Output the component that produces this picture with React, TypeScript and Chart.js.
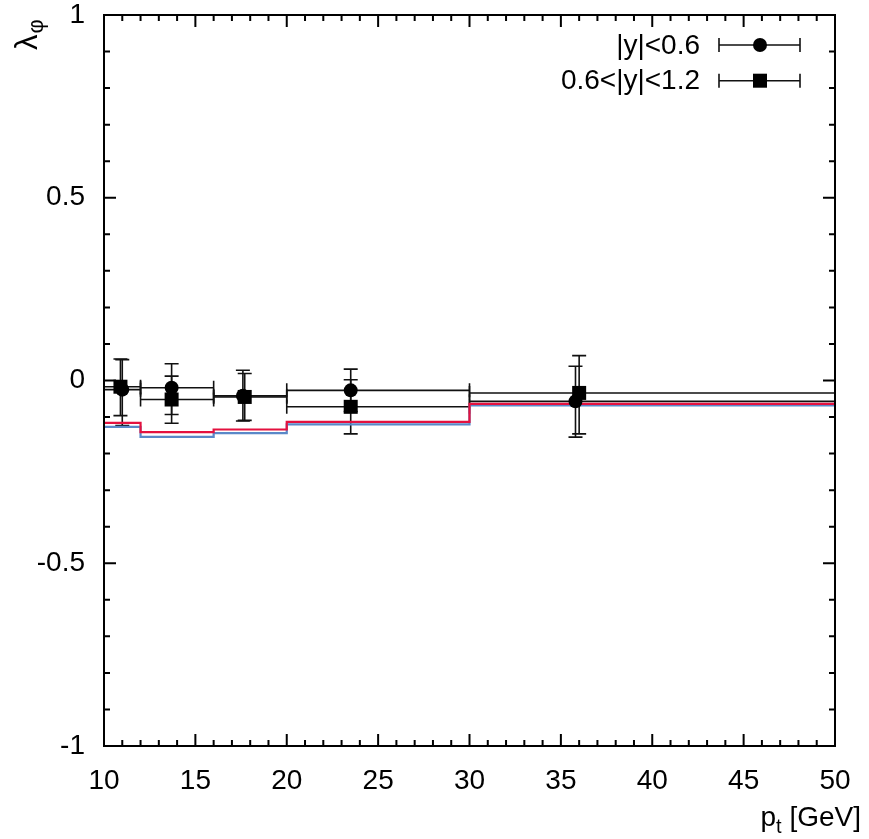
import { useEffect, useRef } from "react";
import { Chart, registerables } from "chart.js";

Chart.register(...registerables);

const FONT = "'Liberation Sans', Arial, sans-serif";

// pt bins [GeV]
const binLow = [10, 12, 16, 20, 30];
const binHigh = [12, 16, 20, 30, 50];

// |y|<0.6 (circles)
const centralPt = [11.0, 13.7, 17.6, 23.5, 35.8];
const centralLambda = [-0.025, -0.02, -0.042, -0.027, -0.057];
const centralErrUp = [0.082, 0.066, 0.07, 0.058, 0.096];
const centralErrDown = [0.098, 0.073, 0.069, 0.058, 0.098];

// 0.6<|y|<1.2 (squares)
const forwardPt = [10.9, 13.7, 17.7, 23.5, 36.0];
const forwardLambda = [-0.017, -0.052, -0.045, -0.072, -0.034];
const forwardErrUp = [0.076, 0.064, 0.064, 0.074, 0.102];
const forwardErrDown = [0.079, 0.065, 0.064, 0.074, 0.112];

// theory histograms (value per bin)
const theoryEdges = [10, 12, 16, 20, 30, 50];
const theoryRed = [-0.116, -0.141, -0.134, -0.113, -0.064];
const theoryBlue = [-0.127, -0.154, -0.144, -0.12, -0.068];

const xMajorTicks = [10, 15, 20, 25, 30, 35, 40, 45, 50];
const yMajorTicks = [-1, -0.5, 0, 0.5, 1];

const legendLabels = ["|y|<0.6", "0.6<|y|<1.2"];

const CAP = 7;
const CIRCLE_R = 7;
const SQUARE_SIDE = 14;

const series = [
  { pt: centralPt, val: centralLambda, up: centralErrUp, down: centralErrDown, style: "circle" },
  { pt: forwardPt, val: forwardLambda, up: forwardErrUp, down: forwardErrDown, style: "rect" },
];

const stepPoints = (vals: number[]) =>
  theoryEdges.map((x, i) => ({ x, y: vals[Math.min(i, vals.length - 1)] }));

const isMajor = (v: number, list: number[]) => list.some((m) => Math.abs(m - v) < 1e-6);

function drawMarker(ctx: CanvasRenderingContext2D, style: string, x: number, y: number) {
  ctx.fillStyle = "#000";
  if (style === "circle") {
    ctx.beginPath();
    ctx.arc(x, y, CIRCLE_R, 0, Math.PI * 2);
    ctx.fill();
  } else {
    ctx.fillRect(x - SQUARE_SIDE / 2, y - SQUARE_SIDE / 2, SQUARE_SIDE, SQUARE_SIDE);
  }
}

const errorBars = {
  id: "errorBars",
  beforeDatasetsDraw(chart: any) {
    const { ctx, scales } = chart;
    const { x, y } = scales;
    ctx.save();
    ctx.strokeStyle = "#111";
    ctx.lineWidth = 1.6;
    for (const s of series) {
      s.val.forEach((v, i) => {
        const py = y.getPixelForValue(v);
        const x0 = x.getPixelForValue(binLow[i]);
        const x1 = x.getPixelForValue(binHigh[i]);
        const px = x.getPixelForValue(s.pt[i]);
        const yt = y.getPixelForValue(v + s.up[i]);
        const yb = y.getPixelForValue(v - s.down[i]);
        ctx.beginPath();
        ctx.moveTo(x0, py);
        ctx.lineTo(x1, py);
        ctx.moveTo(x0, py - CAP);
        ctx.lineTo(x0, py + CAP);
        ctx.moveTo(x1, py - CAP);
        ctx.lineTo(x1, py + CAP);
        ctx.moveTo(px, yt);
        ctx.lineTo(px, yb);
        ctx.moveTo(px - CAP, yt);
        ctx.lineTo(px + CAP, yt);
        ctx.moveTo(px - CAP, yb);
        ctx.lineTo(px + CAP, yb);
        ctx.stroke();
      });
    }
    ctx.restore();
  },
};

const frameAndText = {
  id: "frameAndText",
  afterDraw(chart: any) {
    const { ctx, chartArea: a, scales } = chart;
    const { x, y } = scales;
    ctx.save();
    ctx.strokeStyle = "#000";
    ctx.lineWidth = 2;
    ctx.strokeRect(a.left, a.top, a.right - a.left, a.bottom - a.top);

    ctx.beginPath();
    for (const t of x.ticks) {
      const px = x.getPixelForValue(t.value);
      const len = isMajor(t.value, xMajorTicks) ? 12 : 6;
      ctx.moveTo(px, a.bottom);
      ctx.lineTo(px, a.bottom - len);
      ctx.moveTo(px, a.top);
      ctx.lineTo(px, a.top + len);
    }
    for (const t of y.ticks) {
      const py = y.getPixelForValue(t.value);
      const len = isMajor(t.value, yMajorTicks) ? 12 : 6;
      ctx.moveTo(a.left, py);
      ctx.lineTo(a.left + len, py);
      ctx.moveTo(a.right, py);
      ctx.lineTo(a.right - len, py);
    }
    ctx.stroke();

    // legend
    ctx.fillStyle = "#000";
    ctx.font = `28px ${FONT}`;
    ctx.textAlign = "right";
    ctx.textBaseline = "middle";
    legendLabels.forEach((label, i) => {
      const ly = 45 + i * 35.7;
      ctx.fillText(label, 700, ly + 1);
      ctx.lineWidth = 1.6;
      ctx.strokeStyle = "#111";
      ctx.beginPath();
      ctx.moveTo(719, ly);
      ctx.lineTo(800, ly);
      ctx.moveTo(719, ly - CAP);
      ctx.lineTo(719, ly + CAP);
      ctx.moveTo(800, ly - CAP);
      ctx.lineTo(800, ly + CAP);
      ctx.stroke();
      drawMarker(ctx, series[i].style, 760, ly);
    });

    // x title: p_t [GeV]
    ctx.textAlign = "left";
    ctx.textBaseline = "alphabetic";
    const rest = " [GeV]";
    ctx.font = `20px ${FONT}`;
    const tW = ctx.measureText("t").width;
    ctx.font = `28px ${FONT}`;
    const pW = ctx.measureText("p").width;
    const restW = ctx.measureText(rest).width;
    const xStart = 861 - restW - tW - pW;
    ctx.fillText("p", xStart, 826);
    ctx.fillText(rest, xStart + pW + tW, 826);
    ctx.font = `20px ${FONT}`;
    ctx.fillText("t", xStart + pW, 833);

    // y title: lambda_phi, rotated
    ctx.translate(37, 50);
    ctx.rotate(-Math.PI / 2);
    ctx.font = `31px ${FONT}`;
    ctx.fillText("λ", 0, 0);
    const lW = ctx.measureText("λ").width;
    ctx.font = `22px ${FONT}`;
    ctx.fillText("φ", lW + 1, 6);
    ctx.restore();
  },
};

export default function App() {
  const canvasRef = useRef<HTMLCanvasElement | null>(null);

  useEffect(() => {
    const canvas = canvasRef.current;
    if (!canvas) return;
    const chart = new Chart(canvas, {
      type: "scatter",
      data: {
        datasets: [
          {
            label: legendLabels[0],
            data: centralPt.map((x, i) => ({ x, y: centralLambda[i] })),
            pointStyle: "circle",
            pointRadius: CIRCLE_R,
            backgroundColor: "#000",
            borderWidth: 0,
          },
          {
            label: legendLabels[1],
            data: forwardPt.map((x, i) => ({ x, y: forwardLambda[i] })),
            pointStyle: "rect",
            pointRadius: SQUARE_SIDE / Math.SQRT2,
            backgroundColor: "#000",
            borderWidth: 0,
          },
          {
            type: "line",
            label: "theory red",
            data: stepPoints(theoryRed),
            stepped: true,
            borderColor: "#e4113f",
            borderWidth: 2.2,
            pointRadius: 0,
            fill: false,
          },
          {
            type: "line",
            label: "theory blue",
            data: stepPoints(theoryBlue),
            stepped: true,
            borderColor: "#5a88c8",
            borderWidth: 2.2,
            pointRadius: 0,
            fill: false,
          },
        ],
      } as any,
      options: {
        animation: false,
        responsive: false,
        devicePixelRatio: 1,
        layout: { padding: { top: 15, right: 34, left: 0, bottom: 0 } },
        plugins: { legend: { display: false }, tooltip: { enabled: false } },
        scales: {
          x: {
            type: "linear",
            min: 10,
            max: 50,
            grid: { display: false, drawTicks: false },
            border: { display: false },
            ticks: {
              stepSize: 1,
              autoSkip: false,
              maxRotation: 0,
              padding: 18,
              color: "#000",
              font: { family: FONT, size: 28 },
              callback: (v: any) => (isMajor(Number(v), xMajorTicks) ? String(v) : ""),
            },
            afterFit: (scale: any) => {
              scale.height = 93;
              scale.paddingLeft = 0;
              scale.paddingRight = 0;
            },
          },
          y: {
            type: "linear",
            min: -1,
            max: 1,
            grid: { display: false, drawTicks: false },
            border: { display: false },
            ticks: {
              stepSize: 0.1,
              autoSkip: false,
              padding: 19,
              color: "#000",
              font: { family: FONT, size: 28 },
              callback: (v: any) =>
                isMajor(Number(v), yMajorTicks) ? String(Math.round(Number(v) * 10) / 10) : "",
            },
            afterFit: (scale: any) => {
              scale.width = 104;
              scale.paddingTop = 0;
              scale.paddingBottom = 0;
            },
          },
        },
      },
      plugins: [errorBars, frameAndText],
    });
    return () => chart.destroy();
  }, []);

  return (
    <div style={{ position: "fixed", left: 0, top: 0, width: 869, height: 839, background: "#fff" }}>
      <canvas ref={canvasRef} width={869} height={839} />
    </div>
  );
}
